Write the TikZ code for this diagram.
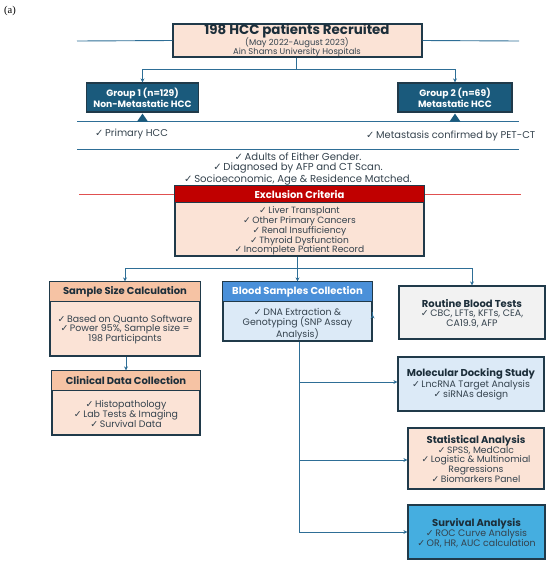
\documentclass[tikz,border=0pt]{standalone}
\usepackage{fontspec}
\setmainfont{Poppins}
\newfontfamily\djv{DejaVu Sans}
\newfontfamily\serifa{Liberation Serif}
\usetikzlibrary{arrows.meta,calc}
\newcommand\ck{{\djv\bfseries ✓}\,}
\newcommand\fsz[2]{\fontsize{#1}{#2}\selectfont}
\definecolor{peach}{HTML}{FBE3D6}
\definecolor{peachdk}{HTML}{F6C3A4}
\definecolor{bordc}{HTML}{203A4A}
\definecolor{grpc}{HTML}{1A5A7C}
\definecolor{connc}{HTML}{2E6E96}
\definecolor{txtc}{HTML}{34424D}
\definecolor{hdtxt}{HTML}{1C2E3A}
\definecolor{redl}{HTML}{E05050}
\definecolor{exhd}{HTML}{C00000}
\definecolor{bluehd}{HTML}{4A90D9}
\definecolor{bluebd}{HTML}{DCEAF7}
\definecolor{greyf}{HTML}{F2F2F2}
\definecolor{survf}{HTML}{45AEE0}
\tikzset{
  box/.style={draw=bordc, line width=1.2pt, rectangle, inner sep=0pt},
  conn/.style={draw=connc, line width=0.9pt},
  arr/.style={conn, -{Stealth[length=4pt,width=4pt]}},
  hline/.style={draw=connc, line width=0.9pt},
  txt/.style={inner sep=0pt, text=txtc, align=center},
  hdr/.style={inner sep=0pt, text=hdtxt, align=center, font=\bfseries\fsz{10}{12}},
  itm/.style={txt, font=\fsz{9.4}{9.8}},
}
\begin{document}
\begin{tikzpicture}[x=1pt,y=-1pt]
\useasboundingbox (0,0) rectangle (550,566);
\node[inner sep=0pt, anchor=west, font=\serifa\fsz{10.5}{12}] (lab) at (4,11) {(a)};
% top box
\node[box, fill=peach, minimum width=249, minimum height=33] (top) at (297.5,40.5) {};
\node[inner sep=0pt, text=hdtxt, font=\bfseries\fsz{13.4}{15}] (toptitle) at (297,31) {198 HCC patients Recruited};
\node[txt, font=\fsz{8.4}{8.6}] (topsub) at (297,47.2) {(May 2022-August 2023)\\Ain Shams University Hospitals};
\coordinate (l1a) at (77,41);
\coordinate (l1b) at (519,41);
\draw[hline] (l1a) -- (top.west);
\draw[hline] (top.east) -- (l1b);
% groups
\node[box, fill=grpc, minimum width=112, minimum height=29] (g1) at (142.5,97.5) {};
\node[inner sep=0pt, text=white, align=center, font=\bfseries\fsz{9.2}{9.6}] (g1t) at (g1) {Group 1 (n=129)\\Non-Metastatic HCC};
\node[box, fill=grpc, minimum width=114, minimum height=29] (g2) at (455,97.5) {};
\node[inner sep=0pt, text=white, align=center, font=\bfseries\fsz{9.2}{9.6}] (g2t) at (g2) {Group 2 (n=69)\\Metastatic HCC};
\coordinate (j1) at (296,69);
\draw[conn] (top.south -| j1) -- (j1);
\draw[arr] (j1) -| (g1.north);
\draw[arr] (j1) -| (g2.north);
% lines under groups
\coordinate (l2a) at (77,121);
\coordinate (l2b) at (519,121);
\draw[hline] (l2a) -- (l2b);
\fill[grpc] ($(g1.south)+(0,1)$) -- ($(g1.south)+(-5.5,9)$) -- ($(g1.south)+(5.5,9)$) -- cycle;
\fill[grpc] ($(g2.south)+(0,1)$) -- ($(g2.south)+(-5.5,9)$) -- ($(g2.south)+(5.5,9)$) -- cycle;
\node[txt, anchor=west, font=\fsz{9.9}{11}] (prim) at (95,134.5) {\ck Primary HCC};
\node[txt, anchor=west, font=\fsz{9.9}{11}] (meta) at (366,136) {\ck Metastasis confirmed by PET-CT};
\coordinate (l3a) at (77,149);
\coordinate (l3b) at (519,149);
\draw[hline] (l3a) -- (l3b);
\node[txt, font=\fsz{10.1}{10}] (incl) at (298,169) {\ck Adults of Either Gender.\\\ck Diagnosed by AFP and CT Scan.\\\ck Socioeconomic, Age \& Residence Matched.};
% exclusion
\coordinate (r1a) at (79,194);
\coordinate (r1b) at (521,194);
\node[box, fill=peach, minimum width=249, minimum height=70] (excl) at (299.5,221) {};
\draw[draw=redl, line width=0.9pt] (r1a) -- (excl.west |- r1a);
\draw[draw=redl, line width=0.9pt] (excl.east |- r1b) -- (r1b);
\draw[box, fill=exhd] (excl.north west) rectangle ($(excl.north east)+(0,17)$);
\node[inner sep=0pt, text=white, font=\bfseries\fsz{10}{12}] (exclt) at (299.5,195) {Exclusion Criteria};
\node[itm, font=\fsz{9.1}{9.8}] (excli) at (299.5,231) {\ck Liver Transplant\\\ck Other Primary Cancers\\\ck Renal Insufficiency\\\ck Thyroid Dysfunction\\\ck Incomplete Patient Record};
% second level
\node[box, fill=peach, minimum width=150, minimum height=74] (sample) at (125,319) {};
\draw[box, fill=peachdk] (sample.north west) rectangle ($(sample.north east)+(0,20)$);
\node[hdr] (samplet) at (125,292) {Sample Size Calculation};
\node[itm] (samplei) at (125,329.5) {\ck Based on Quanto Software\\\ck Power 95\%, Sample size =\\198 Participants};
\node[box, fill=peach, minimum width=148, minimum height=64] (clin) at (126,403) {};
\draw[box, fill=peachdk] (clin.north west) rectangle ($(clin.north east)+(0,20)$);
\node[hdr] (clint) at (126,381) {Clinical Data Collection};
\node[itm] (clini) at (126,414) {\ck Histopathology\\\ck Lab Tests \& Imaging\\\ck Survival Data};
\node[box, fill=bluebd, minimum width=149, minimum height=59] (blood) at (297.5,311.5) {};
\draw[box, fill=bluehd] (blood.north west) rectangle ($(blood.north east)+(0,20)$);
\node[hdr, text=white] (bloodt) at (297.5,292) {Blood Samples Collection};
\node[itm] (bloodi) at (297.5,324) {\ck DNA Extraction \&\\Genotyping (SNP Assay\\Analysis)};
\node[box, fill=greyf, minimum width=146, minimum height=53] (routine) at (472,312.5) {};
\node[itm] (routinet) at (472,313.5) {{\bfseries\color{hdtxt}\fsz{10}{10}Routine Blood Tests}\\\ck CBC, LFTs, KFTs, CEA,\\CA19.9, AFP};
\node[box, fill=bluebd, minimum width=146, minimum height=54] (mol) at (471,384) {};
\node[itm] (molt) at (471,384) {{\bfseries\color{hdtxt}\fsz{10}{10}Molecular Docking Study}\\\ck LncRNA Target Analysis\\\ck siRNAs design};
\node[box, fill=peach, minimum width=136, minimum height=61] (stat) at (476,458.5) {};
\node[itm, font=\fsz{9.2}{9.75}] (statt) at (476,459) {{\bfseries\color{hdtxt}\fsz{10}{9.75}Statistical Analysis}\\\ck SPSS, MedCalc\\\ck Logistic \& Multinomial\\Regressions\\\ck Biomarkers Panel};
\node[box, fill=survf, minimum width=137, minimum height=54] (surv) at (476.5,532) {};
\node[itm, font=\fsz{9.4}{10}] (survt) at (476.5,533.5) {{\bfseries\color{hdtxt}\fsz{10}{10}Survival Analysis}\\\ck ROC Curve Analysis\\\ck OR, HR, AUC calculation};
% connectors
\coordinate (j2) at (297,268);
\draw[arr] (excl.south -| blood.north) -- (blood.north);
\draw[arr] (j2) -| (sample.north);
\draw[arr] (j2) -| (routine.north);
\draw[arr] (sample.south -| clin.north) -- (clin.north);
\draw[arr] ($(blood.east)+(0,3)$) -- ($(blood.east)+(0,3)$ -| routine.west);
\coordinate (tr) at (299,532);
\draw[conn] (blood.south -| tr) -- (tr);
\draw[arr] (tr |- 0,382) -- (mol.west |- 0,382);
\draw[arr] (tr |- 0,460) -- (stat.west |- 0,460);
\draw[arr] (tr) -- (surv.west |- tr);
\end{tikzpicture}
\end{document}
